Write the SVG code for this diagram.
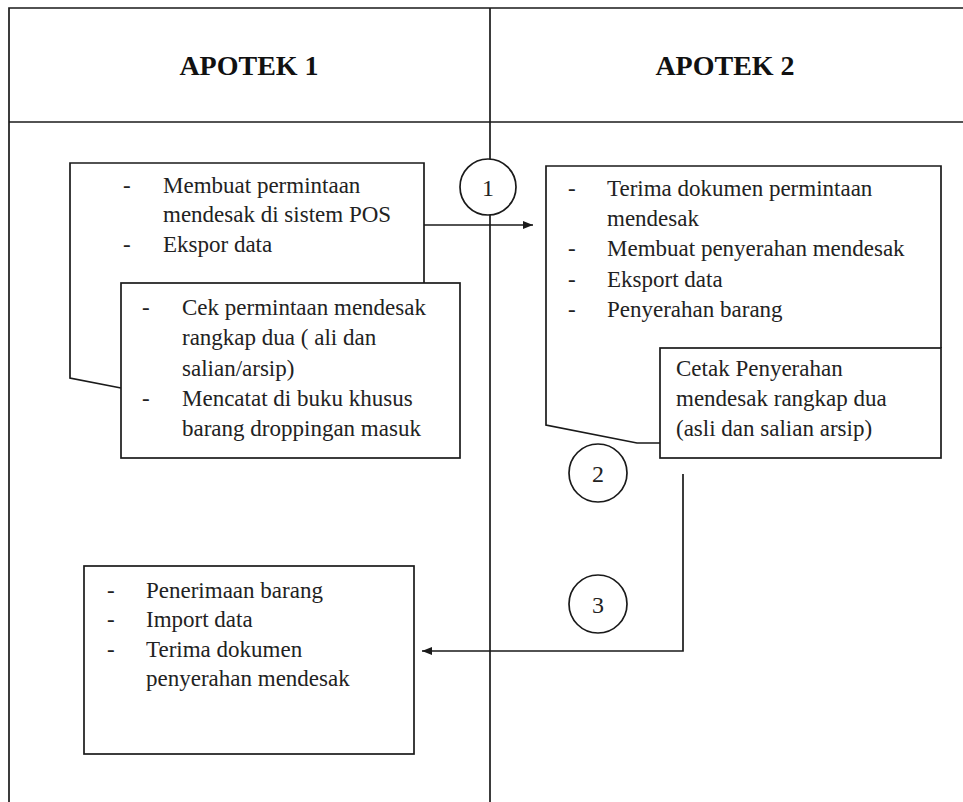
<svg xmlns="http://www.w3.org/2000/svg" width="963" height="802" viewBox="0 0 963 802">
  <style>
    .ln { fill: none; stroke: #1a1a1a; stroke-width: 1.7; }
    .box { fill: #ffffff; stroke: #1a1a1a; stroke-width: 1.7; }
    .hd { font-family: "Liberation Serif", "Times New Roman", serif; font-weight: bold; font-size: 28px; fill: #111; text-anchor: middle; }
    .tx { font-family: "Liberation Serif", "Times New Roman", serif; font-size: 23px; fill: #222; }
    .num { font-family: "Liberation Serif", "Times New Roman", serif; font-size: 24px; fill: #222; text-anchor: middle; }
  </style>
  <defs>
    <marker id="arrow" viewBox="0 0 10 8" refX="10" refY="4" markerWidth="10" markerHeight="8" markerUnits="userSpaceOnUse" orient="auto">
      <path d="M0,0 L10,4 L0,8 Z" fill="#1a1a1a"/>
    </marker>
  </defs>

  <rect width="963" height="802" fill="#ffffff"/>

  <!-- swimlane frame -->
  <g id="frame">
    <path class="ln" d="M9,802 V8 H963"/>
    <path class="ln" d="M9,122 H963"/>
    <path class="ln" d="M490,8 V802"/>
    <text class="hd" x="249" y="75">APOTEK 1</text>
    <text class="hd" x="725" y="75">APOTEK 2</text>
  </g>

  <!-- connectors -->
  <g id="connectors">
    <path class="ln" d="M422,225 H533" marker-end="url(#arrow)"/>
    <path class="ln" d="M683,474 V651 H422" marker-end="url(#arrow)"/>
  </g>

  <!-- Apotek 1: request document -->
  <g id="node-request">
    <path class="box" d="M121,388 L70,378 V163 H424 V283"/>
    <text class="tx" x="123" y="193">-</text>
    <text class="tx" x="163" y="193">Membuat permintaan</text>
    <text class="tx" x="163" y="222">mendesak di sistem POS</text>
    <text class="tx" x="123" y="252">-</text>
    <text class="tx" x="163" y="252">Ekspor data</text>
  </g>

  <g id="node-check">
    <rect class="box" x="121" y="283" width="339" height="175"/>
    <text class="tx" x="142" y="315">-</text>
    <text class="tx" x="182" y="315">Cek permintaan mendesak</text>
    <text class="tx" x="182" y="345">rangkap dua ( ali dan</text>
    <text class="tx" x="182" y="376">salian/arsip)</text>
    <text class="tx" x="142" y="406">-</text>
    <text class="tx" x="182" y="406">Mencatat di buku khusus</text>
    <text class="tx" x="182" y="436">barang droppingan masuk</text>
  </g>

  <!-- Apotek 2: handover document -->
  <g id="node-handover">
    <path class="box" d="M660,443 H637 L546,425 V166 H941 V348"/>
    <text class="tx" x="568" y="196">-</text>
    <text class="tx" x="607" y="196">Terima dokumen permintaan</text>
    <text class="tx" x="607" y="226">mendesak</text>
    <text class="tx" x="568" y="256">-</text>
    <text class="tx" x="607" y="256">Membuat penyerahan mendesak</text>
    <text class="tx" x="568" y="287">-</text>
    <text class="tx" x="607" y="287">Eksport data</text>
    <text class="tx" x="568" y="317">-</text>
    <text class="tx" x="607" y="317">Penyerahan barang</text>
  </g>

  <g id="node-print">
    <rect class="box" x="660" y="348" width="281" height="110"/>
    <text class="tx" x="676" y="376">Cetak Penyerahan</text>
    <text class="tx" x="676" y="406">mendesak rangkap dua</text>
    <text class="tx" x="676" y="436">(asli dan salian arsip)</text>
  </g>

  <!-- Apotek 1: receipt -->
  <g id="node-receive">
    <rect class="box" x="84" y="566" width="330" height="188"/>
    <text class="tx" x="107" y="598">-</text>
    <text class="tx" x="146" y="598">Penerimaan barang</text>
    <text class="tx" x="107" y="627">-</text>
    <text class="tx" x="146" y="627">Import data</text>
    <text class="tx" x="107" y="657">-</text>
    <text class="tx" x="146" y="657">Terima dokumen</text>
    <text class="tx" x="146" y="686">penyerahan mendesak</text>
  </g>

  <!-- step markers -->
  <g id="step-1">
    <circle class="box" cx="488" cy="187" r="28"/>
    <text class="num" x="488" y="196">1</text>
  </g>
  <g id="step-2">
    <circle class="box" cx="598" cy="473" r="29"/>
    <text class="num" x="598" y="482">2</text>
  </g>
  <g id="step-3">
    <circle class="box" cx="598" cy="604" r="29"/>
    <text class="num" x="598" y="613">3</text>
  </g>
</svg>
